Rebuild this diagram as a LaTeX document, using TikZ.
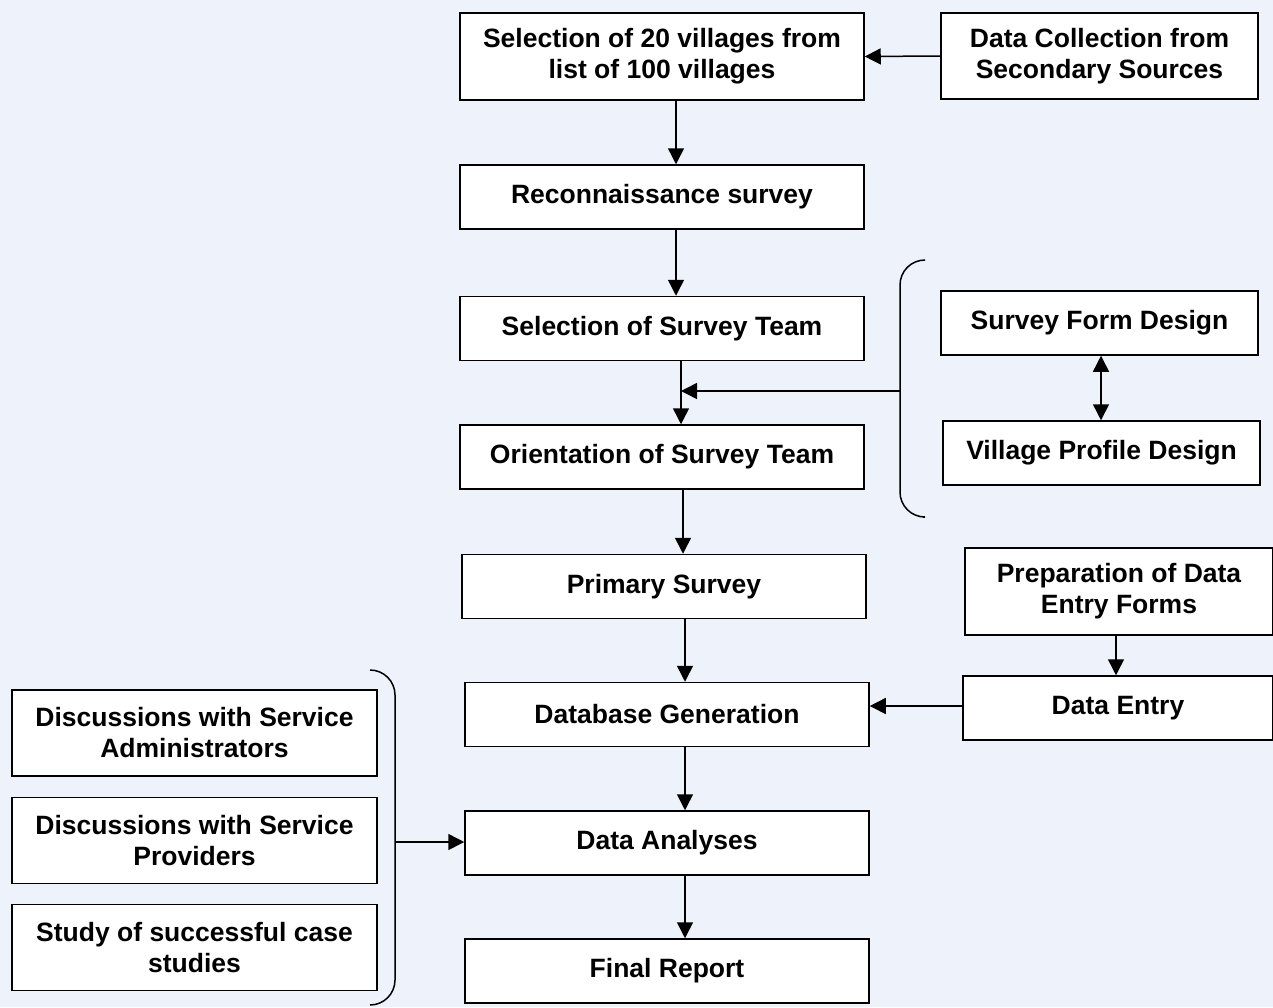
\documentclass[tikz,border=0pt]{standalone}
\usepackage{fontspec}
\setmainfont{Liberation Sans}[BoldFont={Liberation Sans Bold}]
\usetikzlibrary{arrows.meta}
\definecolor{bgblue}{HTML}{EEF2FA}
\tikzset{
    box/.style={draw, line width=1.5pt, fill=white, align=center, inner sep=0pt,
        font=\fontsize{26.5}{31}\selectfont\bfseries},
    % main column
    stepbox/.style={box, minimum width=404pt, minimum height=64pt},
    % side boxes
    sidebox/.style={box, minimum width=317pt, minimum height=64pt},
    talkbox/.style={box, minimum width=365pt, minimum height=86pt},
    arr/.style={line width=1.5pt, -{Triangle[length=16pt, width=16pt]}},
    darr/.style={line width=1.5pt, {Triangle[length=16pt, width=16pt]}-{Triangle[length=16pt, width=16pt]}},
    brace/.style={line width=1.5pt, rounded corners=25pt}
}
\begin{document}
\begin{tikzpicture}[x=1pt, y=-1pt]
    % background
    \fill[bgblue] (0,0) rectangle (1273,1007);
    \useasboundingbox (0,0) rectangle (1273,1007);

    % main column
    \node[stepbox, minimum height=87pt] (sel) at (662,56.5) {Selection of 20 villages from\\list of 100 villages};
    \node[stepbox] (recon) at (662,197) {Reconnaissance survey};
    \node[stepbox] (team) at (662,328.5) {Selection of Survey Team};
    \node[stepbox] (orient) at (662,457) {Orientation of Survey Team};
    \node[stepbox] (primary) at (664,586.5) {Primary Survey};
    \node[stepbox] (dbgen) at (667,714.5) {Database Generation};
    \node[stepbox] (analyses) at (667,843) {Data Analyses};
    \node[stepbox] (report) at (667,971) {Final Report};

    % right side
    \node[sidebox, minimum height=86pt] (collect) at (1099.5,56) {Data Collection from\\Secondary Sources};
    \node[sidebox] (form) at (1099.5,323) {Survey Form Design};
    \node[sidebox] (profile) at (1101.5,453) {Village Profile Design};
    \node[sidebox, minimum width=308pt, minimum height=87pt] (prep) at (1119,591.5) {Preparation of Data\\Entry Forms};
    \node[sidebox, minimum width=310pt] (entry) at (1118,708) {Data Entry};

    % left side
    \node[talkbox] (admins) at (194.5,733) {Discussions with Service\\Administrators};
    \node[talkbox] (providers) at (194.5,840.5) {Discussions with Service\\Providers};
    \node[talkbox] (cases) at (194.5,947.5) {Study of successful case\\studies};

    % braces
    \draw[brace] (923,260) -- (900,260) -- (900,517) -- (923,517);
    \draw[brace] (370,670) -- (395,670) -- (395,1005) -- (370,1005);
    \coordinate (rb) at (900,391);
    \coordinate (lb) at (395,842);
    \coordinate (join) at (681,391);

    % connectors
    \draw[arr] (collect.west) -- (sel.east);
    \draw[arr] ([xshift=14pt]sel.south) -- ([xshift=14pt]recon.north);
    \draw[arr] ([xshift=14pt]recon.south) -- ([xshift=14pt]team.north);
    \draw[arr] ([xshift=19pt]team.south) -- ([xshift=19pt]orient.north);
    \draw[arr] (rb) -- (join);
    \draw[arr] ([xshift=21pt]orient.south) -- ([xshift=21pt]orient.south |- primary.north);
    \draw[arr] ([xshift=21pt]primary.south) -- ([xshift=21pt]primary.south |- dbgen.north);
    \draw[arr] ([xshift=18pt]dbgen.south) -- ([xshift=18pt]analyses.north);
    \draw[arr] ([xshift=18pt]analyses.south) -- ([xshift=18pt]report.north);
    \draw[darr] ([xshift=1.5pt]form.south) -- ([xshift=1.5pt]form.south |- profile.north);
    \draw[arr] ([xshift=-3pt]prep.south) -- ([xshift=-3pt]prep.south |- entry.north);
    \draw[arr] ([yshift=2pt]entry.west) -- ([yshift=2pt]entry.west -| dbgen.east);
    \draw[arr] (lb) -- (lb -| analyses.west);
\end{tikzpicture}
\end{document}
